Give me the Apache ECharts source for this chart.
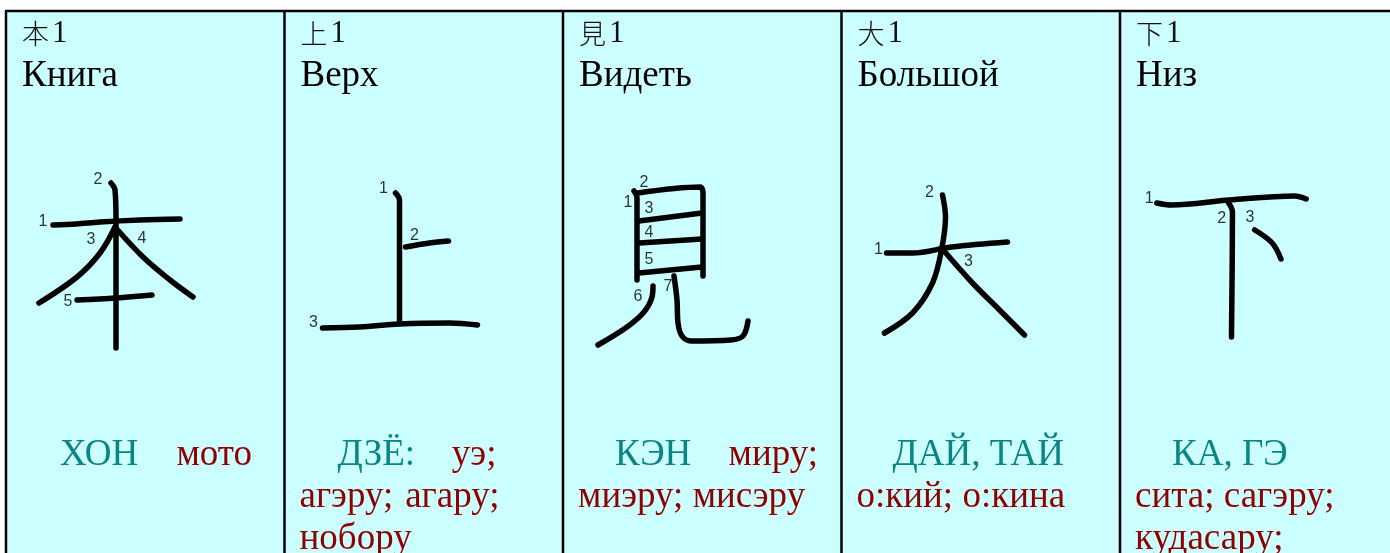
<!DOCTYPE html>
<html><head><meta charset="utf-8">
<script src="https://cdn.jsdelivr.net/npm/echarts@6/dist/echarts.min.js"></script>
<style>html,body{margin:0;padding:0;background:#fff}#c{width:1390px;height:553px}</style>
</head><body><div id="c"></div>
<script>
// ---- content ----
const kanji = ['本', '上', '見', '大', '下'];
const cardNumbers = ['1', '1', '1', '1', '1'];
const meanings = ['Книга', 'Верх', 'Видеть', 'Большой', 'Низ'];
const onReadings = ['ХОН', 'ДЗЁ:', 'КЭН', 'ДАЙ, ТАЙ', 'КА, ГЭ'];
const kunHon = ['мото'];
const kunUe = ['уэ;', 'агэру;', 'агару;', 'нобору'];
const kunMiru = ['миру;', 'миэру; мисэру'];
const kunOoki = ['о:кий; о:кина'];
const kunShita = ['сита; сагэру;', 'кудасару;'];
const kunReadings = [kunHon, kunUe, kunMiru, kunOoki, kunShita];

// stroke paths, in each card's own coordinates
const strokesHon = [
  [[47,225],[70,224],[94,222],[134,220],[174,219]],
  [[105,183],[109,190],[110,220],[110,348]],
  [[109,227],[94,253],[71,277],[33,303]],
  [[109,227],[137,257],[164,280],[187,297]],
  [[71,300],[110,298],[146,295]]
];
const strokesUe = [
  [[111,193],[115,200],[115,323]],
  [[121,247],[145,243],[164,241]],
  [[38,328],[75,327],[115,324],[165,323],[193,325]]
];
const strokesMiru = [
  [[71,191],[74,198],[74,280]],
  [[75,193],[137,187],[140,193],[140,276]],
  [[76,221],[139,213]],
  [[76,243],[139,239]],
  [[76,273],[139,267]],
  [[90,286],[89,297],[81,312],[64,327],[35,345]],
  [[111,276],[114,300],[115,323],[119,336],[128,341],[168,340],[180,336],[185,321]]
];
const strokesOoki = [
  [[45,253],[71,253],[110,247],[166,242]],
  [[101,195],[104,217],[100,250],[91,283],[71,313],[43,333]],
  [[100,248],[131,283],[158,310],[183,335]]
];
const strokesShita = [
  [[38,203],[53,205],[113,200],[180,196],[192,199]],
  [[112,203],[116,212],[115,337]],
  [[139,230],[157,243],[166,259]]
];
const strokeSets = [strokesHon, strokesUe, strokesMiru, strokesOoki, strokesShita];

const numPosHon = [[37,222],[92,180],[85,240],[136,239],[62,302]];
const numPosUe = [[99,189],[130,236],[29,323]];
const numPosMiru = [[65,203],[81,183],[86,209],[86,233],[86,260],[75,297],[105,287]];
const numPosOoki = [[37,250],[88,193],[127,262]];
const numPosShita = [[30,199],[105,219],[134,218]];
const numPosSets = [numPosHon, numPosUe, numPosMiru, numPosOoki, numPosShita];

// ---- layout ----
const W = 1390, H = 553;
const X0 = 6, PW = 278.5, TOP = 11;
const SERIF = '"Liberation Serif","Times New Roman","Noto Sans CJK JP",serif';
const TEAL = '#0a8585', RED = '#900000';
const FS = 37;
const LINE_Y = [455, 497, 539];
// reading placement: [source, index, x, line, align]
const readingLayout = [
  [['on',0,54,0,'left'], ['kun',0,246,0,'right']],
  [['on',0,53,0,'left'], ['kun',0,212,0,'right'], ['kun',1,15,1,'left'], ['kun',2,215,1,'right'], ['kun',3,15,2,'left']],
  [['on',0,52,0,'left'], ['kun',0,255,0,'right'], ['kun',1,15,1,'left']],
  [['on',0,51,0,'left'], ['kun',0,15,1,'left']],
  [['on',0,52,0,'left'], ['kun',0,15,1,'left'], ['kun',1,15,2,'left']]
];

const chart = echarts.init(document.getElementById('c'), null, {renderer: 'canvas'});
const grids = [], xAxes = [], yAxes = [], series = [], graphics = [];

graphics.push({type:'rect', shape:{x:X0, y:TOP, width:W - X0, height:H - TOP}, style:{fill:'#ccffff'}, z:-10, silent:true});

for (let i = 0; i < kanji.length; i++) {
  const left = X0 + i * PW;
  grids.push({left: left, top: 0, width: PW, height: H});
  xAxes.push({gridIndex:i, type:'value', min:0, max:PW, show:false});
  yAxes.push({gridIndex:i, type:'value', min:0, max:H, inverse:true, show:false});
  strokeSets[i].forEach(function (pts) {
    series.push({
      type:'line', xAxisIndex:i, yAxisIndex:i, data:pts, smooth:0.35,
      showSymbol:false, symbol:'none', silent:true, animation:false, z:5,
      lineStyle:{color:'#000', width:5.5, cap:'round', join:'round'}
    });
  });
  series.push({
    type:'scatter', xAxisIndex:i, yAxisIndex:i, symbolSize:1, silent:true, animation:false, z:6,
    itemStyle:{color:'rgba(0,0,0,0)'},
    data: numPosSets[i].map(function (p, k) { return {value:p, name:String(k + 1)}; }),
    label:{show:true, position:'inside', formatter:'{b}', color:'#000',
      fontFamily:'"Liberation Sans",Arial,sans-serif', fontSize:16}
  });
  // headers
  graphics.push({type:'text', x:left + 16, y:34, z:20, silent:true, style:{
    text:'{k|' + kanji[i] + '}{g|}{n|' + cardNumbers[i] + '}', verticalAlign:'middle',
    rich:{k:{fontFamily:'"Noto Sans CJK JP",sans-serif', fontSize:27, fill:'#111', fontWeight:300},
          g:{width:3},
          n:{fontFamily:SERIF, fontSize:31, fill:'#111'}}}});
  graphics.push({type:'text', x:left + 16, y:76, z:20, silent:true, style:{
    text:meanings[i], fontFamily:SERIF, fontSize:FS, fill:'#000', verticalAlign:'middle'}});
  // readings
  readingLayout[i].forEach(function (r) {
    const isOn = r[0] === 'on';
    const txt = isOn ? onReadings[i] : kunReadings[i][r[1]];
    graphics.push({type:'text', x:left + r[2], y:LINE_Y[r[3]], z:20, silent:true, style:{
      text:txt, fontFamily:SERIF, fontSize:FS, fill:isOn ? TEAL : RED,
      align:r[4], verticalAlign:'middle'}});
  });
}
// borders
graphics.push({type:'line', shape:{x1:X0 - 1, y1:TOP, x2:W, y2:TOP}, style:{stroke:'#000', lineWidth:2.5}, z:30, silent:true});
for (let i = 0; i < kanji.length; i++) {
  const x = X0 + i * PW;
  graphics.push({type:'line', shape:{x1:x, y1:TOP, x2:x, y2:H}, style:{stroke:'#000', lineWidth:2.5}, z:30, silent:true});
}

chart.setOption({
  backgroundColor:'#fff', animation:false,
  grid:grids, xAxis:xAxes, yAxis:yAxes, series:series, graphic:graphics
});
</script></body></html>
